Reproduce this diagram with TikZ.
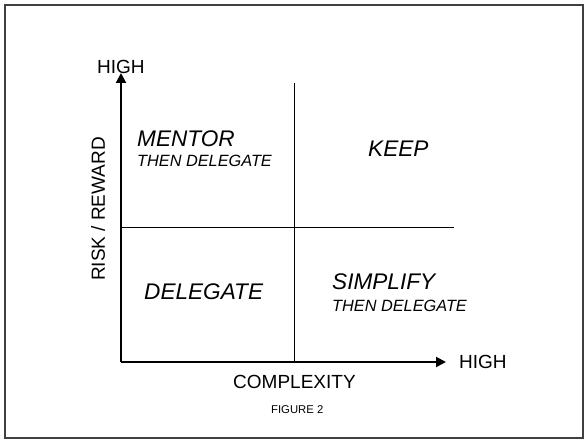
\documentclass[tikz,border=0pt]{standalone}
\usepackage{fontspec}
\setmainfont{Liberation Sans}
\usetikzlibrary{arrows.meta}
\begin{document}
\begin{tikzpicture}[x=1pt,y=-1pt,
  lbl/.style={inner sep=0pt,anchor=base west,font=\fontsize{19}{22}\selectfont},
  big/.style={inner sep=0pt,anchor=base west,font=\fontsize{22.6}{26}\selectfont\itshape},
  small/.style={inner sep=0pt,anchor=base west,font=\fontsize{16.3}{18}\selectfont\itshape},
  axis/.style={line width=2pt,-{Triangle[length=10pt,width=10pt]}},
  divider/.style={line width=0.9pt}]
\useasboundingbox (0,0) rectangle (587,443);
\draw[line width=1.5pt,draw=black!75] (5,5) rectangle (583,438);
\coordinate (o) at (121,362);
\coordinate (ytip) at (121,73);
\coordinate (xtip) at (446,362);
\coordinate (vtop) at (294,83);
\coordinate (vbot) at (294,362);
\coordinate (hl) at (121,227);
\coordinate (hr) at (454,227);
\draw[divider] (vtop) -- (vbot);
\draw[divider] (hl) -- (hr);
\draw[axis] (o) -- (ytip);
\draw[axis] (o) -- (xtip);
\node[lbl] (hy) at (97,74) {HIGH};
\node[lbl] (hx) at (459,369) {HIGH};
\node[lbl] (cx) at (233,389) {COMPLEXITY};
\node[inner sep=0pt,anchor=base west,font=\fontsize{11.3}{13}\selectfont] (fig) at (271,414) {FIGURE 2};
\node[inner sep=0pt,font=\fontsize{19}{22}\selectfont,rotate=90] (rr) at (98,209) {RISK / REWARD};
\node[big] (m) at (137,147) {MENTOR};
\node[small] (m2) at (137,167) {THEN DELEGATE};
\node[big] (k) at (368,157) {KEEP};
\node[big] (d) at (144,300) {DELEGATE};
\node[big] (s) at (332,290) {SIMPLIFY};
\node[small] (s2) at (332,312) {THEN DELEGATE};
\end{tikzpicture}
\end{document}
